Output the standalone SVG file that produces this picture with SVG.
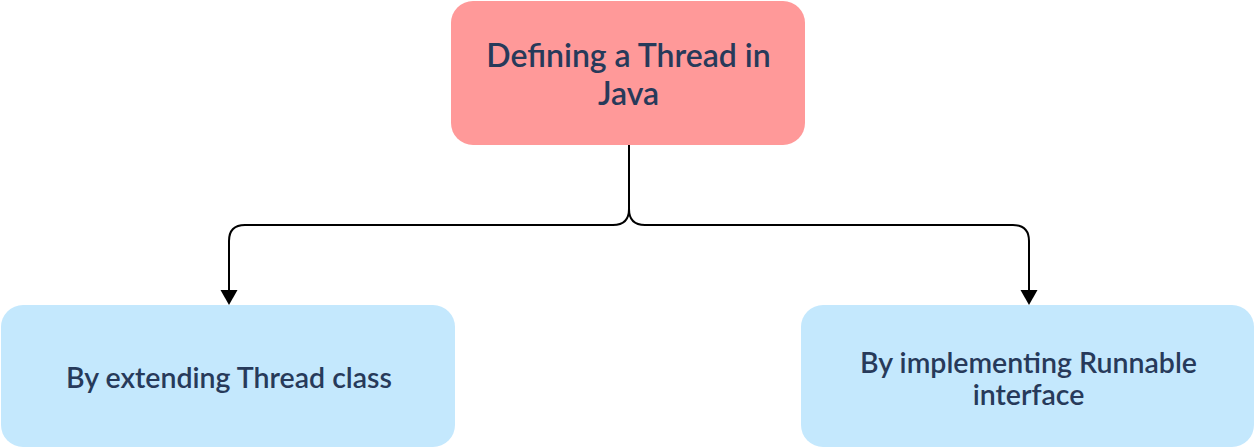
<svg xmlns="http://www.w3.org/2000/svg" width="1254" height="448" viewBox="0 0 1254 448">
<defs>
<style>
.t{font-family:Lato,"Liberation Sans",sans-serif;font-weight:600;fill:#273a5a;text-anchor:middle}
.c{fill:none;stroke:#000;stroke-width:2}
.a{fill:#000}
</style>
</defs>
<rect width="1254" height="448" fill="#fff"/>
<g id="connectors">
<path class="c" d="M629,145 V209 Q629,225 613,225 H245 Q229,225 229,241 V290" />
<path class="c" d="M629,209 Q629,225 645,225 H1013 Q1029,225 1029,241 V290" />
<path class="a" d="M220.5,290 L237.5,290 L229,305 Z"/>
<path class="a" d="M1020.5,290 L1037.5,290 L1029,305 Z"/>
</g>
<g id="root">
<rect x="451" y="1" width="354" height="144" rx="22" fill="#ff9999"/>
<text class="t" x="628.5" y="66.5" font-size="32">Defining a Thread in</text>
<text class="t" x="628.5" y="104.5" font-size="32">Java</text>
</g>
<g id="extend">
<rect x="1" y="305" width="454" height="142" rx="22" fill="#c4e8fd"/>
<text class="t" x="229" y="388" font-size="28.5">By extending Thread class</text>
</g>
<g id="implement">
<rect x="801" y="305" width="453" height="142" rx="22" fill="#c4e8fd"/>
<text class="t" x="1028.5" y="372.5" font-size="28.5">By implementing Runnable</text>
<text class="t" x="1028.5" y="404.5" font-size="28.5">interface</text>
</g>
</svg>
